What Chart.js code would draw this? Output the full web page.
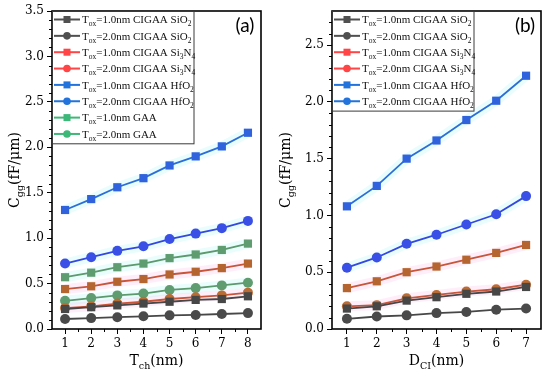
<!DOCTYPE html>
<html>
<head>
<meta charset="utf-8">
<script src="https://cdn.jsdelivr.net/npm/chart.js@4.4.0/dist/chart.umd.min.js"></script>
<style>
  body { margin: 0; background: #fff; }
  .pane { position: absolute; top: 0; height: 375px; }
  #paneA { left: 0; width: 275px; }
  #paneB { left: 270px; width: 280px; }
</style>
</head>
<body>
<div class="pane" id="paneA"><canvas id="chartA"></canvas></div>
<div class="pane" id="paneB"><canvas id="chartB"></canvas></div>
<script>
// x values (nm) and tick labels
const tchNm = [1, 2, 3, 4, 5, 6, 7, 8];
const dciNm = [1, 2, 3, 4, 5, 6, 7];
const yTicksA = [0, 0.5, 1, 1.5, 2, 2.5, 3, 3.5];
const yTicksB = [0, 0.5, 1, 1.5, 2, 2.5];

const seriesNames = [
  'T_{ox}=1.0nm CIGAA SiO_{2}',
  'T_{ox}=2.0nm CIGAA SiO_{2}',
  'T_{ox}=1.0nm CIGAA Si_{3}N_{4}',
  'T_{ox}=2.0nm CIGAA Si_{3}N_{4}',
  'T_{ox}=1.0nm CIGAA HfO_{2}',
  'T_{ox}=2.0nm CIGAA HfO_{2}',
  'T_{ox}=1.0nm GAA',
  'T_{ox}=2.0nm GAA'
];

// (a) Cgg vs Tch
const a_sio2_10  = [0.22, 0.24, 0.26, 0.28, 0.30, 0.32, 0.33, 0.36];
const a_sio2_20  = [0.11, 0.12, 0.13, 0.14, 0.15, 0.155, 0.165, 0.175];
const a_si3n4_10 = [0.44, 0.47, 0.52, 0.55, 0.60, 0.63, 0.67, 0.72];
const a_si3n4_20 = [0.23, 0.25, 0.28, 0.30, 0.33, 0.35, 0.37, 0.40];
const a_hfo2_10  = [1.31, 1.43, 1.56, 1.66, 1.80, 1.90, 2.01, 2.16];
const a_hfo2_20  = [0.72, 0.79, 0.86, 0.91, 0.99, 1.05, 1.11, 1.19];
const a_gaa_10   = [0.57, 0.62, 0.68, 0.72, 0.78, 0.82, 0.87, 0.94];
const a_gaa_20   = [0.31, 0.34, 0.37, 0.39, 0.43, 0.45, 0.48, 0.51];

// (b) Cgg vs DCI
const b_sio2_10  = [0.18, 0.20, 0.25, 0.28, 0.31, 0.33, 0.37];
const b_sio2_20  = [0.09, 0.11, 0.12, 0.14, 0.15, 0.17, 0.18];
const b_si3n4_10 = [0.36, 0.42, 0.50, 0.55, 0.61, 0.67, 0.74];
const b_si3n4_20 = [0.20, 0.21, 0.27, 0.30, 0.33, 0.35, 0.39];
const b_hfo2_10  = [1.08, 1.26, 1.50, 1.66, 1.84, 2.01, 2.23];
const b_hfo2_20  = [0.54, 0.63, 0.75, 0.83, 0.92, 1.01, 1.17];

// colours: line / marker in plot, key = legend colour
const look = [
  { line: '#474747', dot: '#474747', key: '#505050', shape: 'rect',   glow: null },
  { line: '#474747', dot: '#4a4a4a', key: '#505050', shape: 'circle', glow: null },
  { line: '#c8553a', dot: '#b5652f', key: '#ff4545', shape: 'rect',   glow: 'rgba(255,120,210,0.13)' },
  { line: '#c8553a', dot: '#bb6c35', key: '#ff4545', shape: 'circle', glow: 'rgba(255,120,210,0.13)' },
  { line: '#2a6fd8', dot: '#2f62dc', key: '#2274dc', shape: 'rect',   glow: 'rgba(110,240,240,0.15)' },
  { line: '#3348e0', dot: '#3a4fe6', key: '#2274dc', shape: 'circle', glow: 'rgba(110,240,240,0.15)' },
  { line: '#5a9a6c', dot: '#5f9c70', key: '#3cb878', shape: 'rect',   glow: 'rgba(110,240,240,0.15)' },
  { line: '#5a9a6c', dot: '#5f9c70', key: '#3cb878', shape: 'circle', glow: 'rgba(110,240,240,0.15)' }
];

function makeSets(xs, lists) {
  return lists.map((vals, i) => ({
    label: seriesNames[i],
    data: vals.map((v, j) => ({ x: xs[j], y: v })),
    borderColor: look[i].line,
    backgroundColor: look[i].dot,
    pointBackgroundColor: look[i].dot,
    pointBorderColor: look[i].dot,
    pointBorderWidth: 0,
    pointStyle: look[i].shape,
    pointRadius: look[i].shape === 'rect' ? 5.8 : 5,
    borderWidth: 1.8,
    tension: 0,
    glow: look[i].glow
  }));
}

// split 'T_{ox}' into normal / subscript pieces
function pieces(s) {
  const out = [];
  s.split(/(_\{[^}]*\})/).forEach(p => {
    if (!p) return;
    if (p.startsWith('_{')) out.push([p.slice(2, -1), true]);
    else out.push([p, false]);
  });
  return out;
}
function richWidth(ctx, s, size, fam) {
  let w = 0;
  pieces(s).forEach(([t, sub]) => {
    ctx.font = (sub ? size * 0.68 : size) + 'px ' + fam;
    w += ctx.measureText(t).width;
  });
  return w;
}
function drawRich(ctx, s, x, y, size, fam) {
  let cx = x;
  pieces(s).forEach(([t, sub]) => {
    ctx.font = (sub ? size * 0.68 : size) + 'px ' + fam;
    ctx.fillText(t, cx, sub ? y + size * 0.28 : y);
    cx += ctx.measureText(t).width;
  });
}

const decor = {
  id: 'decor',
  beforeDatasetsDraw(chart) {
    const ctx = chart.ctx;
    ctx.save();
    ctx.lineJoin = 'round';
    chart.data.datasets.forEach((ds, i) => {
      if (!ds.glow) return;
      const pts = chart.getDatasetMeta(i).data;
      ctx.strokeStyle = ds.glow;
      ctx.lineWidth = 10;
      ctx.beginPath();
      pts.forEach((p, k) => k ? ctx.lineTo(p.x, p.y) : ctx.moveTo(p.x, p.y));
      ctx.stroke();
    });
    ctx.restore();
  },
  afterDraw(chart, args, o) {
    const { ctx, chartArea: a, scales: { x, y } } = chart;
    ctx.save();
    // minor ticks
    ctx.strokeStyle = '#000';
    ctx.lineWidth = 1;
    ctx.beginPath();
    for (let k = 1; k * 0.1 < y.max; k++) {
      if (k % 5 === 0) continue;
      const py = Math.round(y.getPixelForValue(k * 0.1)) + 0.5;
      ctx.moveTo(a.left - 3, py); ctx.lineTo(a.left, py);
    }
    for (let v = x.min + 1; v < x.max; v += 1) {
      const px = Math.round(x.getPixelForValue(v)) + 0.5;
      ctx.moveTo(px, a.bottom); ctx.lineTo(px, a.bottom + 3);
    }
    ctx.stroke();
    // frame
    ctx.lineWidth = 1.6;
    ctx.strokeRect(a.left, a.top, a.width, a.height);

    // legend
    const n = o.count, rowH = 16.35;
    ctx.fillStyle = '#fff';
    ctx.fillRect(a.left + 1, a.top + 1, 141, n * rowH + 1);
    ctx.strokeStyle = '#3a3a3a';
    ctx.lineWidth = 1;
    ctx.strokeRect(a.left + 0.5, a.top + 0.5, 141.5, n * rowH + 1.5);
    ctx.textAlign = 'left';
    ctx.textBaseline = 'alphabetic';
    for (let i = 0; i < n; i++) {
      const ry = a.top + 8.5 + i * rowH;
      const c = look[i].key;
      ctx.strokeStyle = c;
      ctx.lineWidth = 2;
      ctx.beginPath();
      ctx.moveTo(a.left + 2, ry); ctx.lineTo(a.left + 28, ry);
      ctx.stroke();
      ctx.fillStyle = c;
      if (look[i].shape === 'rect') {
        ctx.fillRect(a.left + 15 - 3.5, ry - 3.5, 7, 7);
      } else {
        ctx.beginPath(); ctx.arc(a.left + 15, ry, 3.8, 0, Math.PI * 2); ctx.fill();
      }
      ctx.fillStyle = '#111';
      drawRich(ctx, seriesNames[i], a.left + 30, ry + 3.8, 11, '"Liberation Serif"');
    }

    // panel tag
    ctx.fillStyle = '#000';
    ctx.font = '19px Lato';
    ctx.textAlign = 'center';
    ctx.textBaseline = 'middle';
    ctx.fillText(o.tag, a.right - 16, a.top + 15);

    // axis titles
    ctx.textAlign = 'left';
    ctx.textBaseline = 'alphabetic';
    const fam = '"DejaVu Serif"';
    const xw = richWidth(ctx, o.xTitle, 14, fam);
    drawRich(ctx, o.xTitle, (a.left + a.right) / 2 - xw / 2, 365, 14, fam);
    const yw = richWidth(ctx, o.yTitle, 14, fam);
    ctx.translate(o.yTitleX, 170);
    ctx.rotate(-Math.PI / 2);
    drawRich(ctx, o.yTitle, -yw / 2, 5, 14, fam);
    ctx.restore();
  }
};

function makeChart(id, xs, lists, yTicks, yMax, xMax, axisW, padRight, deco) {
  const tickFont = { family: 'DejaVu Serif', size: 12 };
  const grid = { drawOnChartArea: false, drawTicks: true, tickLength: 5, tickColor: '#000', tickWidth: 1 };
  return new Chart(document.getElementById(id), {
    type: 'line',
    data: { datasets: makeSets(xs, lists) },
    options: {
      responsive: true,
      maintainAspectRatio: false,
      animation: false,
      layout: { padding: { left: 0, right: padRight, top: 11, bottom: 0 } },
      plugins: { legend: { display: false }, tooltip: { enabled: false }, decor: deco },
      scales: {
        x: {
          type: 'linear', min: 0.5, max: xMax,
          afterBuildTicks: s => { s.ticks = xs.map(v => ({ value: v })); },
          afterFit: s => { s.height = 46; },
          grid: grid, border: { display: false },
          ticks: { color: '#000', font: tickFont, padding: 3, maxRotation: 0, callback: v => String(v) }
        },
        y: {
          type: 'linear', min: 0, max: yMax,
          afterBuildTicks: s => { s.ticks = yTicks.map(v => ({ value: v })); },
          afterFit: s => { s.width = axisW; },
          grid: grid, border: { display: false },
          ticks: { color: '#000', font: tickFont, padding: 3, callback: v => Number(v).toFixed(1) }
        }
      }
    },
    plugins: [decor]
  });
}

makeChart('chartA', tchNm,
  [a_sio2_10, a_sio2_20, a_si3n4_10, a_si3n4_20, a_hfo2_10, a_hfo2_20, a_gaa_10, a_gaa_20],
  yTicksA, 3.5, 8.5, 52, 14,
  { count: 8, tag: '(a)', xTitle: 'T_{ch}(nm)', yTitle: 'C_{gg}(fF/μm)', yTitleX: 14 });

makeChart('chartB', dciNm,
  [b_sio2_10, b_sio2_20, b_si3n4_10, b_si3n4_20, b_hfo2_10, b_hfo2_20],
  yTicksB, 2.8, 7.5, 62, 9,
  { count: 6, tag: '(b)', xTitle: 'D_{CI}(nm)', yTitle: 'C_{gg}(fF/μm)', yTitleX: 15 });
</script>
</body>
</html>
